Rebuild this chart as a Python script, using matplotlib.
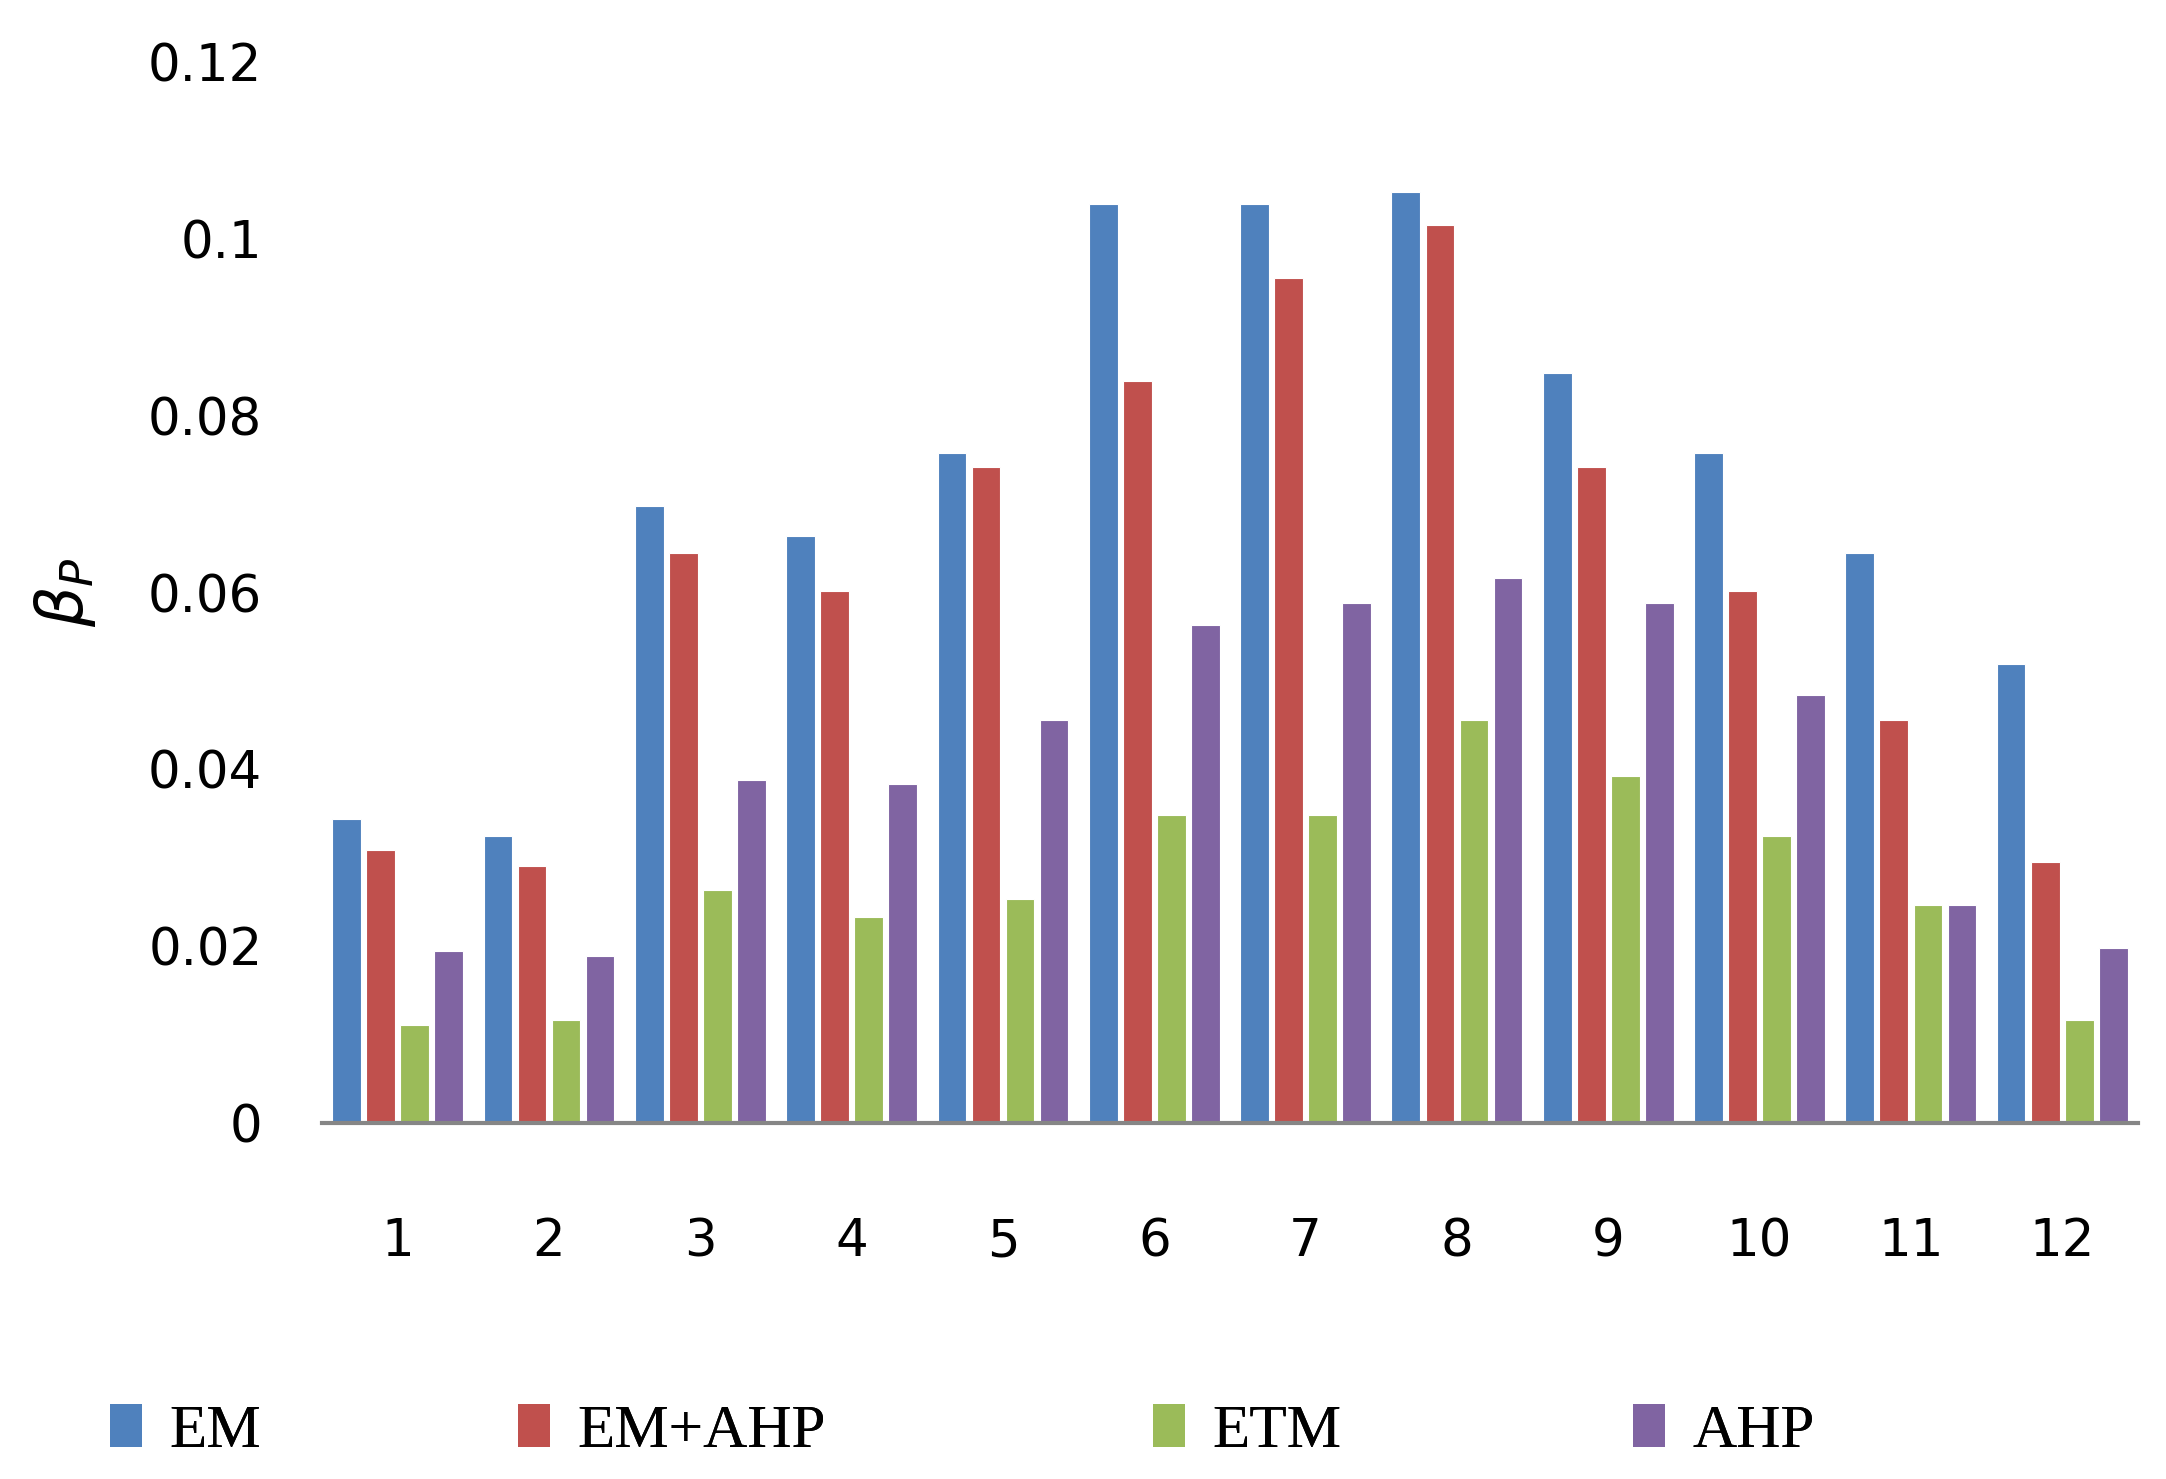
import numpy as np
import matplotlib
matplotlib.use("Agg")
import matplotlib.pyplot as plt
from matplotlib.patches import Patch

groups = [str(i) for i in range(1, 13)]
em = [0.0344, 0.0325, 0.0698, 0.0664, 0.0758, 0.1039, 0.1039, 0.1053, 0.0848, 0.0758, 0.0645, 0.0519]
em_ahp = [0.0309, 0.0291, 0.0645, 0.0602, 0.0742, 0.0839, 0.0956, 0.1016, 0.0742, 0.0602, 0.0456, 0.0295]
etm = [0.0111, 0.0116, 0.0263, 0.0233, 0.0253, 0.0348, 0.0348, 0.0456, 0.0392, 0.0325, 0.0247, 0.0116]
ahp = [0.0194, 0.0189, 0.0388, 0.0383, 0.0456, 0.0563, 0.0588, 0.0616, 0.0588, 0.0484, 0.0247, 0.0198]
series_names = ["EM", "EM+AHP", "ETM", "AHP"]
colors = ["#4F81BD", "#C0504D", "#9BBB59", "#8064A2"]

fig = plt.figure(figsize=(21.66, 14.79), dpi=100)
ax = fig.add_axes([0.1487, 0.2407, 0.8383, 0.7173])

x = np.arange(1, 13)
pitch = 0.225
width = 0.19
for i, (vals, name, c) in enumerate(zip([em, em_ahp, etm, ahp], series_names, colors)):
    ax.bar(x + (i - 1.5) * pitch, vals, width=width, color=c, edgecolor="white",
           linewidth=0.8, label=name)

ax.set_xlim(0.5, 12.5)
ax.set_ylim(0, 0.12)
ax.set_yticks([0, 0.02, 0.04, 0.06, 0.08, 0.1, 0.12])
ax.set_yticklabels(["0", "0.02", "0.04", "0.06", "0.08", "0.1", "0.12"])
ax.set_xticks(x)
ax.set_xticklabels(groups)
ax.tick_params(axis="both", length=0, labelsize=37)
ax.tick_params(axis="y", pad=43)
ax.tick_params(axis="x", pad=68)

for s in ["top", "right", "left"]:
    ax.spines[s].set_visible(False)
ax.spines["bottom"].set_color("#868686")
ax.spines["bottom"].set_linewidth(3)

# y label: beta_P
ax.set_ylabel(r"$\beta_P$", fontsize=46, labelpad=36)

# legend entries are spaced unevenly in the original, so one legend per entry
legend_x = [0.051, 0.2392, 0.5325, 0.7538]
for name, c, lx in zip(series_names, colors, legend_x):
    leg = fig.legend(handles=[Patch(facecolor=c, label=name)], loc="lower left",
                     bbox_to_anchor=(lx, 0.013), frameon=False, borderpad=0, borderaxespad=0,
                     prop={"family": "Liberation Serif", "size": 44},
                     handlelength=0.52, handleheight=0.7, handletextpad=0.45)
    fig.add_artist(leg)

fig.savefig("out.png", dpi=100)
